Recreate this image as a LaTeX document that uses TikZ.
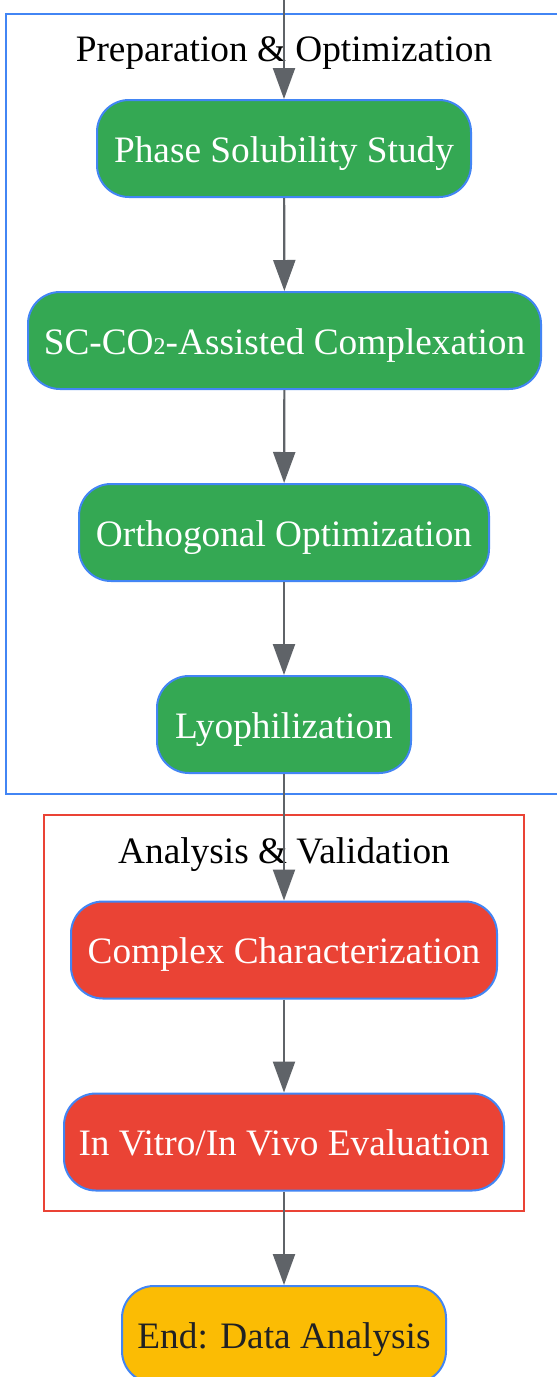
\documentclass[tikz,border=0pt]{standalone}
\usepackage{fontspec}
\setmainfont{Liberation Serif}
\usetikzlibrary{arrows.meta}
\definecolor{gblue}{HTML}{4285F4}
\definecolor{ggreen}{HTML}{34A853}
\definecolor{gred}{HTML}{EA4335}
\definecolor{gyellow}{HTML}{FBBC04}
\definecolor{ggray}{HTML}{5F6368}
\definecolor{gdark}{HTML}{202124}
\newcommand{\subtwo}{{\fontsize{24}{24}\selectfont 2}}
\tikzset{
  box/.style={draw=gblue, line width=2pt, rounded corners=32pt, minimum height=97pt,
    inner sep=0pt, text height=27pt, text depth=0pt,
    font=\fontsize{37.3}{40}\selectfont, text=white},
  greenbox/.style={box, fill=ggreen},
  redbox/.style={box, fill=gred},
  endbox/.style={box, fill=gyellow, text=gdark},
  cluster/.style={line width=2pt},
  ctitle/.style={font=\fontsize{37.3}{40}\selectfont, text=black, inner sep=0pt,
    text height=27pt, text depth=0pt},
  flow/.style={draw=ggray, line width=2.2pt, -{Triangle[length=31pt,width=22pt]}},
}
\begin{document}
\begin{tikzpicture}[x=1pt,y=-1pt]
\useasboundingbox (0,0) rectangle (557,1377);
\fill[white] (0,0) rectangle (557,1377);
% clusters
\draw[cluster, draw=gblue] (6,14) rectangle (562,794);
\node[ctitle] (t1) at (284,48) {Preparation \& Optimization};
\draw[cluster, draw=gred] (44,815) rectangle (524,1211);
\node[ctitle] (t2) at (284,850) {Analysis \& Validation};
% nodes
\node[greenbox, minimum width=374pt] (n1) at (284,148.5) {Phase Solubility Study};
\node[greenbox, minimum width=513pt] (n2) at (284.5,340.5) {SC-CO\subtwo-Assisted Complexation};
\node[greenbox, minimum width=410pt] (n3) at (284,532.5) {Orthogonal Optimization};
\node[greenbox, minimum width=254pt] (n4) at (284,724.5) {Lyophilization};
\node[redbox, minimum width=426pt] (n5) at (284,950) {Complex Characterization};
\node[redbox, minimum width=440pt] (n6) at (284,1142) {In Vitro/In Vivo Evaluation};
\node[endbox, minimum width=324pt] (n7) at (284,1334.5) {End: Data Analysis};
\coordinate (start) at (284,-2);
% connectors
\draw[flow] (start) -- (n1.north);
\draw[flow] (n1) -- (n2);
\draw[flow] (n2) -- (n3);
\draw[flow] (n3) -- (n4);
\draw[flow] (n4) -- (n5);
\draw[flow] (n5) -- (n6);
\draw[flow] (n6) -- (n7);
\end{tikzpicture}
\end{document}
